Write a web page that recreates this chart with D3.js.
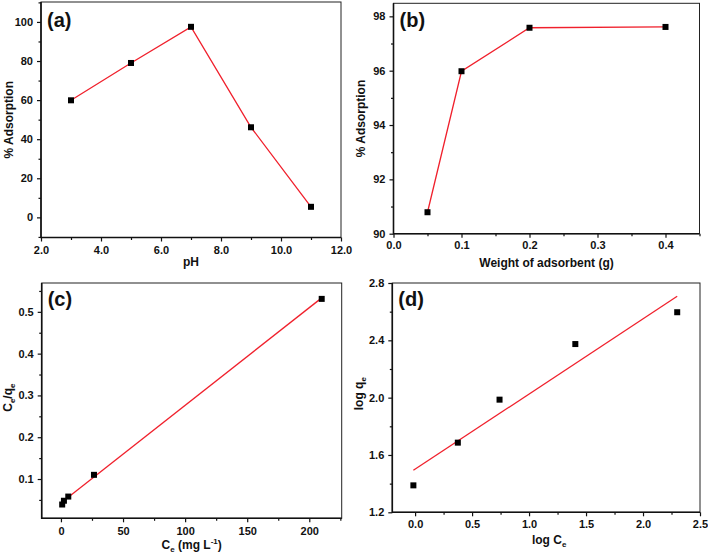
<!DOCTYPE html>
<html><head><meta charset="utf-8">
<script src="https://cdn.jsdelivr.net/npm/d3@7"></script>
<style>
body{margin:0;background:#fff}
svg{display:block}
text{font-family:"Liberation Sans",Arial,sans-serif;font-weight:bold;fill:#111}
</style>
</head><body>
<svg id="chart" width="708" height="556"></svg>
<script>
// ---- data ----
const pH = [3, 5, 7, 9, 11];
const adsorptionPH = [59.9, 79.0, 97.5, 46.1, 5.4];

const weight = [0.05, 0.1, 0.2, 0.4];
const adsorptionW = [90.79, 95.98, 97.58, 97.61];

const ce = [1.0, 2.4, 5.9, 26.6, 210];
const ceOverQe = [0.039, 0.048, 0.058, 0.110, 0.531];
const langmuirFitX = [1.0, 209];
const langmuirFitY = [0.045, 0.531];

const logCe = [-0.015, 0.375, 0.741, 1.406, 2.30];
const logQe = [1.388, 1.686, 1.986, 2.374, 2.596];
const freundlichFitX = [-0.015, 2.30];
const freundlichFitY = [1.493, 2.707];

// tick values
const aXTicks = [2, 4, 6, 8, 10, 12];
const aXMinor = [3, 5, 7, 9, 11];
const aYTicks = [0, 20, 40, 60, 80, 100];
const aYMinor = [-10, 10, 30, 50, 70, 90, 110];
const bXTicks = [0, 0.1, 0.2, 0.3, 0.4];
const bXMinor = [0.05, 0.15, 0.25, 0.35, 0.45];
const bYTicks = [90, 92, 94, 96, 98];
const bYMinor = [91, 93, 95, 97];
const cXTicks = [0, 50, 100, 150, 200];
const cXMinor = [25, 75, 125, 175, 225];
const cYTicks = [0.1, 0.2, 0.3, 0.4, 0.5];
const cYMinor = [0.05, 0.15, 0.25, 0.35, 0.45, 0.55];
const dXTicks = [0, 0.5, 1.0, 1.5, 2.0, 2.5];
const dXMinor = [0.25, 0.75, 1.25, 1.75, 2.25];
const dYTicks = [1.2, 1.6, 2.0, 2.4, 2.8];
const dYMinor = [1.4, 1.8, 2.2, 2.6];

const RED = "#f0202c";
const svg = d3.select("#chart");

function panel(o) {
  const g = svg.append("g");
  const x = d3.scaleLinear().domain(o.xDomain).range([o.left, o.right]);
  const y = d3.scaleLinear().domain(o.yDomain).range([o.bottom, o.top]);

  const styleAxis = sel => {
    sel.select(".domain").remove();
    sel.selectAll("line").attr("stroke", "#111").attr("stroke-width", 1.2);
    sel.selectAll("text").attr("font-size", 11).attr("fill", "#111")
      .attr("font-family", '"Liberation Sans",Arial,sans-serif').attr("font-weight", "bold");
  };

  // minor ticks
  g.append("g").attr("transform", `translate(0,${o.bottom})`)
    .call(d3.axisBottom(x).tickValues(o.xMinor.filter(v => v >= o.xDomain[0] && v <= o.xDomain[1])).tickSize(2.5).tickFormat(""))
    .call(styleAxis);
  g.append("g").attr("transform", `translate(${o.left},0)`)
    .call(d3.axisLeft(y).tickValues(o.yMinor.filter(v => v >= o.yDomain[0] && v <= o.yDomain[1])).tickSize(2.5).tickFormat(""))
    .call(styleAxis);
  // major ticks
  g.append("g").attr("transform", `translate(0,${o.bottom})`)
    .call(d3.axisBottom(x).tickValues(o.xTicks).tickSize(4).tickPadding(o.xPad || 4).tickFormat(d3.format(o.xFmt)))
    .call(styleAxis);
  g.append("g").attr("transform", `translate(${o.left},0)`)
    .call(d3.axisLeft(y).tickValues(o.yTicks).tickSize(4).tickPadding(4).tickFormat(d3.format(o.yFmt)))
    .call(styleAxis);

  // frame
  g.append("rect").attr("x", o.left).attr("y", o.top)
    .attr("width", o.right - o.left).attr("height", o.bottom - o.top)
    .attr("fill", "none").attr("stroke", "#222").attr("stroke-width", 1);
  g.append("path")
    .attr("d", `M${o.left},${o.top}V${o.bottom}H${o.right}`)
    .attr("fill", "none").attr("stroke", "#111").attr("stroke-width", 1.6);

  // line
  const lx = o.lineX, ly = o.lineY;
  const line = d3.line().x((d, i) => x(lx[i])).y((d, i) => y(ly[i]));
  g.append("path").datum(lx).attr("d", line)
    .attr("fill", "none").attr("stroke", RED).attr("stroke-width", 1.3);

  // points
  const s = 6;
  g.selectAll("rect.pt").data(o.px).enter().append("rect").attr("class", "pt")
    .attr("x", (d) => x(d) - s / 2)
    .attr("y", (d, i) => y(o.py[i]) - s / 2)
    .attr("width", s).attr("height", s).attr("fill", "#000");

  // panel label
  g.append("text").attr("x", o.left + 6).attr("y", o.top + o.labDy)
    .attr("font-size", 20).text(o.label);

  // x title
  const xt = g.append("text").attr("x", (o.left + o.right) / 2 + (o.xtDx || 0))
    .attr("y", o.xtY).attr("text-anchor", "middle").attr("font-size", 12);
  o.xTitle(xt);
  // y title
  const cy = (o.top + o.bottom) / 2 + (o.ytDy || 0);
  const yt = g.append("text").attr("transform", `translate(${o.ytX},${cy}) rotate(-90)`)
    .attr("text-anchor", "middle").attr("font-size", 12);
  o.yTitle(yt);
}

function plain(t) { return sel => sel.text(t); }

panel({
  left: 41, right: 341, top: 2, bottom: 237.5,
  xDomain: [2, 12], yDomain: [-10.3, 110.2],
  xTicks: aXTicks, xMinor: aXMinor, yTicks: aYTicks, yMinor: aYMinor,
  xFmt: ".1f", yFmt: "d", xPad: 5,
  px: pH, py: adsorptionPH, lineX: pH, lineY: adsorptionPH,
  label: "(a)", labDy: 25,
  xTitle: plain("pH"), xtY: 266,
  yTitle: plain("% Adsorption"), ytX: 13
});

panel({
  left: 393.5, right: 699.5, top: 3.3, bottom: 233.7,
  xDomain: [0, 0.45], yDomain: [90, 98.48],
  xTicks: bXTicks, xMinor: bXMinor, yTicks: bYTicks, yMinor: bYMinor,
  xFmt: ".1f", yFmt: "d", xPad: 4,
  px: weight, py: adsorptionW, lineX: weight, lineY: adsorptionW,
  label: "(b)", labDy: 24,
  xTitle: plain("Weight of adsorbent (g)"), xtY: 267,
  yTitle: plain("% Adsorption"), ytX: 365
});

panel({
  left: 41.7, right: 341.7, top: 283, bottom: 518.3,
  xDomain: [-15.5, 226.1], yDomain: [0.006, 0.569],
  xTicks: cXTicks, xMinor: cXMinor, yTicks: cYTicks, yMinor: cYMinor,
  xFmt: "d", yFmt: ".1f", xPad: 5,
  px: ce, py: ceOverQe, lineX: langmuirFitX, lineY: langmuirFitY,
  label: "(c)", labDy: 23,
  xTitle: t => {
    t.append("tspan").text("C");
    t.append("tspan").attr("font-size", 8).attr("dy", 3).text("e");
    t.append("tspan").attr("dy", -3).text(" (mg L");
    t.append("tspan").attr("font-size", 8).attr("dy", -5).text("-1");
    t.append("tspan").attr("dy", 5).text(")");
  }, xtY: 549,
  yTitle: t => {
    t.append("tspan").text("C");
    t.append("tspan").attr("font-size", 8).attr("dy", 3).text("e");
    t.append("tspan").attr("dy", -3).text("/q");
    t.append("tspan").attr("font-size", 8).attr("dy", 3).text("e");
  }, ytX: 12, ytDy: -3
});

panel({
  left: 392.3, right: 700, top: 283, bottom: 512.3,
  xDomain: [-0.2, 2.5], yDomain: [1.2, 2.8],
  xTicks: dXTicks, xMinor: dXMinor, yTicks: dYTicks, yMinor: dYMinor,
  xFmt: ".1f", yFmt: ".1f", xPad: 4,
  px: logCe, py: logQe, lineX: freundlichFitX, lineY: freundlichFitY,
  label: "(d)", labDy: 23,
  xTitle: t => {
    t.append("tspan").text("log C");
    t.append("tspan").attr("font-size", 8).attr("dy", 3).text("e");
  }, xtY: 544, xtDx: 3,
  yTitle: t => {
    t.append("tspan").text("log q");
    t.append("tspan").attr("font-size", 8).attr("dy", 3).text("e");
  }, ytX: 363, ytDy: -4
});
</script>
</body></html>
